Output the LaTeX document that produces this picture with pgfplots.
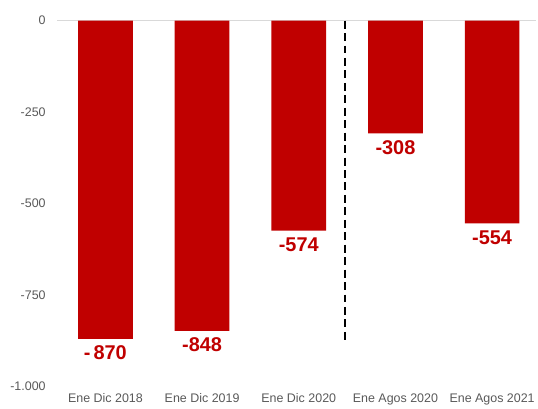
\documentclass[border=0pt]{standalone}
\usepackage{pgfplots}
\pgfplotsset{compat=1.18}
\usepackage{fontspec}
\setmainfont{Liberation Sans}
\definecolor{barred}{HTML}{C00000}
\definecolor{ticktxt}{HTML}{595959}
\definecolor{zeroline}{HTML}{D9D9D9}
\begin{document}
\begin{tikzpicture}
\begin{axis}[
  scale only axis,
  width=480.5pt, height=367.3pt,
  xmin=-0.5, xmax=4.45,
  ymin=-1000, ymax=0,
  clip=false,
  axis line style={draw=none},
  major tick style={draw=none},
  xtick={0,1,2,3,4},
  xticklabels={Ene Dic 2018,Ene Dic 2019,Ene Dic 2020,Ene Agos 2020,Ene Agos 2021},
  ytick={-1000,-750,-500,-250,0},
  yticklabels={-1.000,-750,-500,-250,0},
  tick label style={font=\fontsize{12.5}{14}\selectfont, text=ticktxt},
  yticklabel style={xshift=-8pt},
  xticklabel style={yshift=-4pt},
]
\addplot[zeroline, line width=0.8pt, forget plot] coordinates {(-0.5,0) (4.45,0)};
\addplot[ybar, bar width=0.566, fill=barred, draw=none,
  nodes near coords, point meta=explicit symbolic,
  every node near coord/.append style={anchor=north, inner sep=0pt, yshift=-7pt,
     font=\fontsize{20}{22}\selectfont\bfseries, text=barred}]
  coordinates {
  (0,-870) [-\kern3pt870]
  (1,-848) [-848]
  (2,-574) [-574]
  (3,-308) [-308]
  (4,-554) [-554]
};
\addplot[black, line width=2.2pt, dash pattern=on 8pt off 4.5pt] coordinates {(2.48,0) (2.48,-872)};
\path (rel axis cs:-0.1193,-0.0599) rectangle (rel axis cs:1,1.0564);
\end{axis}
\end{tikzpicture}
\end{document}
